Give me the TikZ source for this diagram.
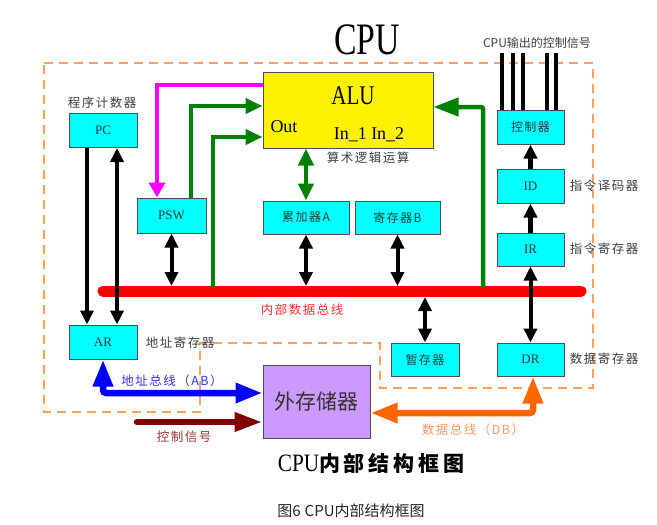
\documentclass[tikz,border=0pt]{standalone}
\usepackage{fontspec}
\setmainfont{Liberation Serif}
\newfontfamily\cjk{Noto Sans CJK SC}
\newfontfamily\cjksp{Noto Sans CJK SC}[LetterSpace=12]
\newfontfamily\cjkbig{Noto Sans CJK SC}[LetterSpace=18]
\usetikzlibrary{arrows.meta,calc}
\definecolor{boxcyan}{HTML}{00FFFF}
\definecolor{boxline}{HTML}{4D4D4D}
\definecolor{boxtext}{HTML}{1F3F3F}
\definecolor{lbl}{HTML}{404040}
\definecolor{dashor}{HTML}{FFA060}
\definecolor{grn}{HTML}{008000}
\definecolor{mag}{HTML}{FF00FF}
\definecolor{ctlred}{HTML}{800000}
\definecolor{orng}{HTML}{FF6600}
\definecolor{memp}{HTML}{CC99FF}
\definecolor{bluetxt}{HTML}{3333FF}
\definecolor{orngtxt}{HTML}{FF9966}
\definecolor{ctltxt}{HTML}{993333}
\definecolor{bustxt}{HTML}{FF3333}
\tikzset{
  reg/.style={draw=boxline, line width=1pt, fill=boxcyan, minimum width=68pt, minimum height=34pt, inner sep=0pt, text=boxtext, font=\cjksp\fontsize{12}{14}\selectfont},
  latin/.style={font=\fontsize{13}{15}\selectfont},
  lab/.style={text=lbl, inner sep=0pt, font=\cjksp\fontsize{12.5}{14}\selectfont},
  blk2/.style={line width=4pt, {Triangle[length=14pt,width=13pt]}-{Triangle[length=14pt,width=13pt]}},
  blk1/.style={line width=4.2pt, -{Triangle[length=14pt,width=13pt]}},
  grn1/.style={grn, line width=4.5pt, -{Triangle[length=17pt,width=15pt]}},
  grnbig/.style={grn, line width=4.5pt, -{Triangle[length=25pt,width=18pt]}},
  grn2/.style={grn, line width=4.5pt, {Triangle[length=17pt,width=15pt]}-{Triangle[length=17pt,width=15pt]}},
  mag1/.style={mag, line width=4pt, -{Triangle[length=15pt,width=16pt]}},
  bigarr/.style={line width=6.5pt, {Triangle[length=27pt,width=19pt]}-{Triangle[length=27pt,width=19pt]}},
  bigarr1/.style={line width=6.5pt, line cap=round, -{Triangle[length=28pt,width=18pt]}},
  wire/.style={line width=3.3pt}
}
\begin{document}
\begin{tikzpicture}[x=1pt,y=-1pt]
\useasboundingbox (0,0) rectangle (657,525);
\fill[white] (0,0) rectangle (657,525);
% dashed CPU boundary
\draw[dashor, line width=1.2pt, dash pattern=on 9pt off 6pt]
  (44,63) -- (593,63) -- (593,388) -- (380,388) -- (380,343) -- (200,343) -- (200,412) -- (44,412) -- cycle;
% title
\node (title) at (367,40) {\scalebox{0.75}[1]{\fontsize{45}{50}\selectfont CPU}};
% boxes
\node[draw=boxline, line width=1pt, fill=yellow, minimum width=170pt, minimum height=76pt] (alu) at (348,110) {};
\node (alut) at (353,96) {\scalebox{0.78}[1]{\fontsize{27}{30}\selectfont ALU}};
\node (outt) at (284,127) {\fontsize{18}{20}\selectfont Out};
\node (int) at (369,135) {\fontsize{18}{20}\selectfont In\_1 In\_2};
\node[reg, latin] (pc) at (103,130.5) {PC};
\node[reg, latin] (ar) at (103,342) {AR};
\node[reg, latin, minimum width=69pt, minimum height=35pt] (psw) at (171.5,215.5) {PSW};
\node[reg, minimum width=86pt, minimum height=33pt] (acc) at (306,217.5) {累加器A};
\node[reg, minimum width=85pt, minimum height=33pt] (regb) at (397.5,217.5) {寄存器B};
\node[reg, minimum width=67pt] (ctl) at (530.5,127) {控制器};
\node[reg, latin, minimum width=67pt] (id) at (530.5,186) {ID};
\node[reg, latin, minimum width=67pt, minimum height=33pt] (ir) at (530.5,249.5) {IR};
\node[reg, latin, minimum width=67pt, minimum height=33pt] (dr) at (530.5,359.5) {DR};
\node[reg, minimum height=33pt] (tmp) at (425,359.5) {暂存器};
\node[draw=boxline, line width=1pt, fill=memp, minimum width=107pt, minimum height=73pt, text=black!80, font=\cjk\fontsize{21}{24}\selectfont] (mem) at (316.5,401.5) {外存储器};
% labels
\node[lab] (lpc) at (102,103) {程序计数器};
\node[lab] (lar) at (180,343) {地址寄存器};
\node[lab] (lid) at (604,186) {指令译码器};
\node[lab] (lir) at (604,249) {指令寄存器};
\node[lab] (ldr) at (604,359) {数据寄存器};
\node[lab, font=\cjk\fontsize{12}{14}\selectfont] (lout) at (537,43) {CPU输出的控制信号};
\node[lab] (lalu) at (368,158) {算术逻辑运算};
\node[lab, text=bustxt] (lbus) at (302,310) {内部数据总线};
\node[lab, text=bluetxt] (lab1) at (172,381) {地址总线（AB）};
\node[lab, text=ctltxt] (lctl) at (184,437) {控制信号};
\node[lab, text=orngtxt] (ldb) at (473,430) {数据总线（DB）};
\node[inner sep=0pt] (sub) at (371,463) {\fontsize{25}{28}\selectfont\scalebox{0.85}[1]{CPU}\cjkbig\bfseries\fontsize{21}{24}\selectfont 内部结构框图};
\node[inner sep=0pt, text=black!85, font=\cjk\fontsize{15}{17}\selectfont] (cap) at (351,511) {图6\hspace{4pt}CPU内部结构框图};
% bus
\coordinate (busW) at (103,291);
\coordinate (busE) at (581,291);
\coordinate (bustop) at (0,286);
\coordinate (busbot) at (0,297);
\draw[red, line width=11pt, line cap=round] (busW) -- (busE);
% black connectors
\draw[blk1] ([xshift=-16pt]pc.south) -- ([xshift=-16pt]ar.north);
\draw[blk2] ([xshift=14pt]pc.south) -- ([xshift=14pt]ar.north);
\draw[blk2] (psw.south) -- (psw.south |- bustop);
\draw[blk2] (acc.south) -- (acc.south |- bustop);
\draw[blk2] (regb.south) -- (regb.south |- bustop);
\draw[blk2] (tmp.north |- busbot) -- (tmp.north);
\draw[blk2] (ir.south) -- (dr.north);
\draw[blk1] (ir.north) -- (id.south);
\draw[blk1] (id.north) -- (ctl.south);
% control wires
\foreach \dx in {-28.5,-17.5,-7.5,16.5,25.5}
  \draw[wire] ([xshift=\dx pt]ctl.north) -- ++(0,-57);
% magenta and green
\draw[mag1] ([yshift=25pt]alu.west) -| ([xshift=-14.5pt]psw.north);
\draw[grn1] ([xshift=19.5pt]psw.north) |- ([yshift=4pt]alu.west);
\coordinate (g2) at (213,288);
\draw[grn1] (g2) |- ([yshift=-27pt]alu.west);
\coordinate (g3) at (483,288);
\draw[grnbig, rounded corners=2pt] (g3) |- ([yshift=3pt]alu.east);
\draw[grn2] (acc.north) -- (acc.north |- alu.south);
% external buses
\draw[bigarr, blue, rounded corners=3pt] (ar.south) |- ([yshift=8.5pt]mem.west);
\coordinate (ctls) at (137,422);
\draw[bigarr1, ctlred] (ctls) -- (ctls -| mem.west);
\draw[bigarr, orng, rounded corners=3pt] ([yshift=-11.5pt]mem.east) -| ([xshift=2.5pt]dr.south);
\end{tikzpicture}
\end{document}
